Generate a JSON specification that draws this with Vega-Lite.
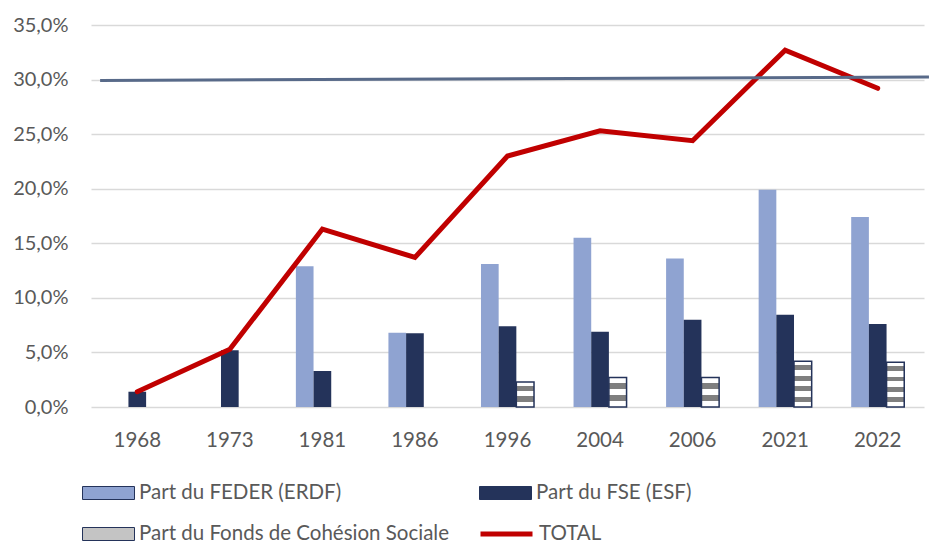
{
  "$schema": "https://vega.github.io/schema/vega-lite/v6.json",
  "width": 833,
  "height": 382,
  "autosize": {"type": "none"},
  "padding": {"left": 91, "top": 25, "right": 5, "bottom": 137},
  "background": "white",
  "config": {
    "font": "Lato",
    "view": {"stroke": null}
  },
  "datasets": {
    "bars": [
      {"year": "1968", "series": "Part du FSE (ESF)", "value": 1.4},
      {"year": "1973", "series": "Part du FSE (ESF)", "value": 5.2},
      {"year": "1981", "series": "Part du FEDER (ERDF)", "value": 12.9},
      {"year": "1981", "series": "Part du FSE (ESF)", "value": 3.3},
      {"year": "1986", "series": "Part du FEDER (ERDF)", "value": 6.8},
      {"year": "1986", "series": "Part du FSE (ESF)", "value": 6.75},
      {"year": "1996", "series": "Part du FEDER (ERDF)", "value": 13.1},
      {"year": "1996", "series": "Part du FSE (ESF)", "value": 7.4},
      {"year": "1996", "series": "Part du Fonds de Cohésion Sociale", "value": 2.3},
      {"year": "2004", "series": "Part du FEDER (ERDF)", "value": 15.5},
      {"year": "2004", "series": "Part du FSE (ESF)", "value": 6.9},
      {"year": "2004", "series": "Part du Fonds de Cohésion Sociale", "value": 2.7},
      {"year": "2006", "series": "Part du FEDER (ERDF)", "value": 13.6},
      {"year": "2006", "series": "Part du FSE (ESF)", "value": 8.0},
      {"year": "2006", "series": "Part du Fonds de Cohésion Sociale", "value": 2.7},
      {"year": "2021", "series": "Part du FEDER (ERDF)", "value": 19.9},
      {"year": "2021", "series": "Part du FSE (ESF)", "value": 8.45},
      {"year": "2021", "series": "Part du Fonds de Cohésion Sociale", "value": 4.2},
      {"year": "2022", "series": "Part du FEDER (ERDF)", "value": 17.4},
      {"year": "2022", "series": "Part du FSE (ESF)", "value": 7.6},
      {"year": "2022", "series": "Part du Fonds de Cohésion Sociale", "value": 4.1}
    ],
    "total": [
      {"year": "1968", "series": "TOTAL", "value": 1.4},
      {"year": "1973", "series": "TOTAL", "value": 5.3},
      {"year": "1981", "series": "TOTAL", "value": 16.3},
      {"year": "1986", "series": "TOTAL", "value": 13.7},
      {"year": "1996", "series": "TOTAL", "value": 23.0},
      {"year": "2004", "series": "TOTAL", "value": 25.3},
      {"year": "2006", "series": "TOTAL", "value": 24.4},
      {"year": "2021", "series": "TOTAL", "value": 32.7},
      {"year": "2022", "series": "TOTAL", "value": 29.2}
    ],
    "ref": [
      {"p": 0, "v": 29.92},
      {"p": 1, "v": 30.24}
    ]
  },
  "layer": [
    {
      "layer": [
        {
          "data": {"name": "bars"},
          "transform": [{"filter": "datum.series !== 'Part du Fonds de Cohésion Sociale'"}],
          "mark": {"type": "bar"},
          "encoding": {
            "x": {
              "field": "year", "type": "nominal",
              "scale": {"domain": ["1968","1973","1981","1986","1996","2004","2006","2021","2022"], "paddingInner": 0.427, "paddingOuter": 0.2135},
              "axis": {"title": null, "domain": false, "ticks": false, "labelFontSize": 20.5, "labelColor": "#595959", "labelPadding": 23, "labelAngle": 0, "labelFont": "Lato"}
            },
            "xOffset": {
              "field": "series", "type": "nominal",
              "scale": {"domain": ["Part du FEDER (ERDF)", "Part du FSE (ESF)", "Part du Fonds de Cohésion Sociale"], "paddingInner": 0, "paddingOuter": 0}
            },
            "y": {
              "field": "value", "type": "quantitative",
              "scale": {"domain": [0, 35], "nice": false},
              "axis": {
                "title": null, "values": [0,5,10,15,20,25,30,35],
                "labelExpr": "replace(format(datum.value, '.1f'), '.', ',') + '%'",
                "grid": true, "gridColor": "#d9d9d9", "gridWidth": 1.5,
                "domain": false, "ticks": false,
                "labelFontSize": 20, "labelColor": "#595959", "labelPadding": 23, "labelFont": "Lato"
              }
            },
            "color": {
              "field": "series", "type": "nominal",
              "scale": {
                "domain": ["Part du FEDER (ERDF)", "Part du FSE (ESF)", "Part du Fonds de Cohésion Sociale"],
                "range": ["#8fa3d1", "#24335a", "#c4c4c4"]
              },
              "legend": {
                "title": null, "orient": "none", "legendX": -9, "legendY": 456,
                "direction": "horizontal", "columns": 2, "columnPadding": 29, "rowPadding": 17,
                "padding": 0, "clipHeight": 24,
                "symbolType": "M-1,-0.25H1V0.25H-1Z", "symbolSize": 2704,
                "symbolStrokeColor": "#24335a", "symbolStrokeWidth": 1, "symbolOpacity": 1,
                "labelFontSize": 20.5, "labelColor": "#595959", "labelOffset": 4, "labelFont": "Lato", "labelLimit": 400
              }
            }
          }
        },
        {
          "data": {"name": "bars"},
          "transform": [{"filter": "datum.series === 'Part du Fonds de Cohésion Sociale' && datum.value < 3.5"}],
          "mark": {
            "type": "bar", "stroke": "#24335a", "strokeWidth": 1.5,
            "fill": {"gradient": "linear", "x1": 0, "y1": 0, "x2": 0, "y2": 1, "stops": [
              {"offset": 0, "color": "#ffffff"}, {"offset": 0.18, "color": "#ffffff"},
              {"offset": 0.18, "color": "#7f7f7f"}, {"offset": 0.38, "color": "#7f7f7f"},
              {"offset": 0.38, "color": "#ffffff"}, {"offset": 0.58, "color": "#ffffff"},
              {"offset": 0.58, "color": "#7f7f7f"}, {"offset": 0.79, "color": "#7f7f7f"},
              {"offset": 0.79, "color": "#ffffff"}, {"offset": 1, "color": "#ffffff"}
            ]}
          },
          "encoding": {
            "x": {"field": "year", "type": "nominal"},
            "xOffset": {"field": "series", "type": "nominal"},
            "y": {"field": "value", "type": "quantitative"}
          }
        },
        {
          "data": {"name": "bars"},
          "transform": [{"filter": "datum.series === 'Part du Fonds de Cohésion Sociale' && datum.value >= 3.5"}],
          "mark": {
            "type": "bar", "stroke": "#24335a", "strokeWidth": 1.5,
            "fill": {"gradient": "linear", "x1": 0, "y1": 0, "x2": 0, "y2": 1, "stops": [
              {"offset": 0, "color": "#ffffff"}, {"offset": 0.08, "color": "#ffffff"},
              {"offset": 0.08, "color": "#7f7f7f"}, {"offset": 0.19, "color": "#7f7f7f"},
              {"offset": 0.19, "color": "#ffffff"}, {"offset": 0.32, "color": "#ffffff"},
              {"offset": 0.32, "color": "#7f7f7f"}, {"offset": 0.43, "color": "#7f7f7f"},
              {"offset": 0.43, "color": "#ffffff"}, {"offset": 0.55, "color": "#ffffff"},
              {"offset": 0.55, "color": "#7f7f7f"}, {"offset": 0.66, "color": "#7f7f7f"},
              {"offset": 0.66, "color": "#ffffff"}, {"offset": 0.78, "color": "#ffffff"},
              {"offset": 0.78, "color": "#7f7f7f"}, {"offset": 0.89, "color": "#7f7f7f"},
              {"offset": 0.89, "color": "#ffffff"}, {"offset": 1, "color": "#ffffff"}
            ]}
          },
          "encoding": {
            "x": {"field": "year", "type": "nominal"},
            "xOffset": {"field": "series", "type": "nominal"},
            "y": {"field": "value", "type": "quantitative"}
          }
        },
        {
          "data": {"name": "total"},
          "mark": {"type": "line", "strokeWidth": 5, "strokeCap": "round", "strokeJoin": "miter"},
          "encoding": {
            "x": {"field": "year", "type": "nominal"},
            "y": {"field": "value", "type": "quantitative"},
            "stroke": {
              "field": "series", "type": "nominal",
              "scale": {"domain": ["TOTAL"], "range": ["#c00000"]},
              "legend": {
                "title": null, "orient": "none", "legendX": 387, "legendY": 497,
                "padding": 0, "clipHeight": 24,
                "symbolType": "stroke", "symbolSize": 2704, "symbolStrokeWidth": 5,
                "labelFontSize": 20.5, "labelColor": "#595959", "labelOffset": 4, "labelFont": "Lato"
              }
            }
          }
        }
      ]
    },
    {
      "data": {"name": "ref"},
      "mark": {"type": "line", "color": "#586a89", "strokeWidth": 3, "clip": false},
      "encoding": {
        "x": {"field": "p", "type": "quantitative", "scale": {"domain": [-0.011, 0.994], "nice": false, "zero": false}, "axis": null},
        "y": {"field": "v", "type": "quantitative"}
      }
    }
  ],
  "resolve": {"scale": {"x": "independent"}}
}
